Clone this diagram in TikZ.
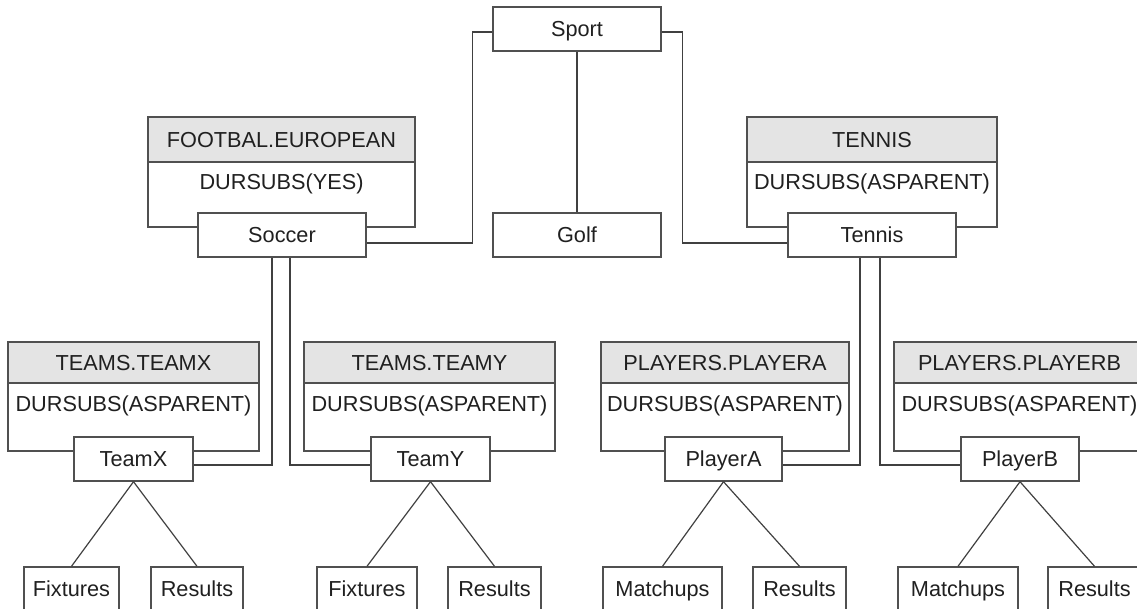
\documentclass[tikz,border=0pt]{standalone}
\usepackage{fontspec}
\setmainfont{Liberation Sans}
\newcommand{\dfont}{\fontsize{21.7}{26}\selectfont}
\definecolor{boxc}{HTML}{505050}
\definecolor{linec}{HTML}{404040}
\definecolor{hdrc}{HTML}{E4E4E4}
\definecolor{txtc}{HTML}{202020}
\tikzset{
  box/.style={draw=boxc, fill=white, line width=1.4pt, inner sep=0pt, font=\dfont, text=txtc, text height=17.6pt, text depth=2.4pt},
  hdr/.style={box, fill=hdrc},
  body/.style={draw=boxc, line width=1.4pt, inner sep=0pt, fill=white},
  lbl/.style={inner sep=0pt, font=\dfont, text=txtc, text height=17.6pt, text depth=2.4pt},
  conn/.style={draw=linec, line width=1.2pt},
}
\begin{document}
\begin{tikzpicture}[x=1pt,y=-1pt]
\useasboundingbox (0,0) rectangle (1137,609);
\clip (0,0) rectangle (1137,609);
% big boxes
\node[body, minimum width=267, minimum height=65] (feb) at (281.5,194.5) {};
\node[hdr, minimum width=267, minimum height=45] (feh) at (281.5,139.5) {FOOTBAL.EUROPEAN};
\node[lbl] (fed) at (281.5,182) {DURSUBS(YES)};
\node[body, minimum width=250, minimum height=65] (tnb) at (872,194.5) {};
\node[hdr, minimum width=250, minimum height=45] (tnh) at (872,139.5) {TENNIS};
\node[lbl] (tnd) at (872,182) {DURSUBS(ASPARENT)};
\node[body, minimum width=251, minimum height=68] (txb) at (133.5,417) {};
\node[hdr, minimum width=251, minimum height=41] (txh) at (133.5,362.5) {TEAMS.TEAMX};
\node[lbl] (txd) at (133.5,404) {DURSUBS(ASPARENT)};
\node[body, minimum width=251, minimum height=68] (tyb) at (429.5,417) {};
\node[hdr, minimum width=251, minimum height=41] (tyh) at (429.5,362.5) {TEAMS.TEAMY};
\node[lbl] (tyd) at (429.5,404) {DURSUBS(ASPARENT)};
\node[body, minimum width=248, minimum height=68] (pab) at (725,417) {};
\node[hdr, minimum width=248, minimum height=41] (pah) at (725,362.5) {PLAYERS.PLAYERA};
\node[lbl] (pad) at (725,404) {DURSUBS(ASPARENT)};
\node[body, minimum width=251, minimum height=68] (pbb) at (1019.5,417) {};
\node[hdr, minimum width=251, minimum height=41] (pbh) at (1019.5,362.5) {PLAYERS.PLAYERB};
\node[lbl] (pbd) at (1019.5,404) {DURSUBS(ASPARENT)};
% small nodes
\node[box, minimum width=168, minimum height=44] (sport) at (577,29) {Sport};
\node[box, minimum width=168, minimum height=44] (golf) at (577,235) {Golf};
\node[box, minimum width=168, minimum height=44] (soccer) at (282,235) {Soccer};
\node[box, minimum width=168, minimum height=44] (tennis) at (872,235) {Tennis};
\node[box, minimum width=119, minimum height=44] (teamx) at (133.5,459) {TeamX};
\node[box, minimum width=119, minimum height=44] (teamy) at (430.5,459) {TeamY};
\node[box, minimum width=117, minimum height=44] (playera) at (723.5,459) {PlayerA};
\node[box, minimum width=118, minimum height=44] (playerb) at (1020,459) {PlayerB};
\node[box, minimum width=95, minimum height=44] (fx1) at (71.5,589) {Fixtures};
\node[box, minimum width=92, minimum height=44] (rs1) at (197,589) {Results};
\node[box, minimum width=100, minimum height=44] (fx2) at (367,589) {Fixtures};
\node[box, minimum width=93, minimum height=44] (rs2) at (494.5,589) {Results};
\node[box, minimum width=119, minimum height=44] (mu1) at (662.5,589) {Matchups};
\node[box, minimum width=93, minimum height=44] (rs3) at (799.5,589) {Results};
\node[box, minimum width=120, minimum height=44] (mu2) at (958,589) {Matchups};
\node[box, minimum width=93, minimum height=44] (rs4) at (1094.5,589) {Results};
% connectors
\draw[conn] (sport.south) -- (golf.north);
\draw[conn] ([yshift=-3pt]sport.west) -- ++(-20,0) |- ([yshift=-8pt]soccer.east);
\draw[conn] ([yshift=-3pt]sport.east) -- ++(21,0) |- ([yshift=-8pt]tennis.west);
\draw[conn] ([xshift=-10pt]soccer.south) |- ([yshift=-6pt]teamx.east);
\draw[conn] ([xshift=8pt]soccer.south) |- ([yshift=-6pt]teamy.west);
\draw[conn] ([xshift=-12pt]tennis.south) |- ([yshift=-6pt]playera.east);
\draw[conn] ([xshift=8pt]tennis.south) |- ([yshift=-6pt]playerb.west);
\draw[conn] (teamx.south) -- (fx1.north);
\draw[conn] (teamx.south) -- (rs1.north);
\draw[conn] (teamy.south) -- (fx2.north);
\draw[conn] (teamy.south) -- (rs2.north);
\draw[conn] (playera.south) -- (mu1.north);
\draw[conn] (playera.south) -- (rs3.north);
\draw[conn] (playerb.south) -- (mu2.north);
\draw[conn] (playerb.south) -- (rs4.north);
\end{tikzpicture}
\end{document}
